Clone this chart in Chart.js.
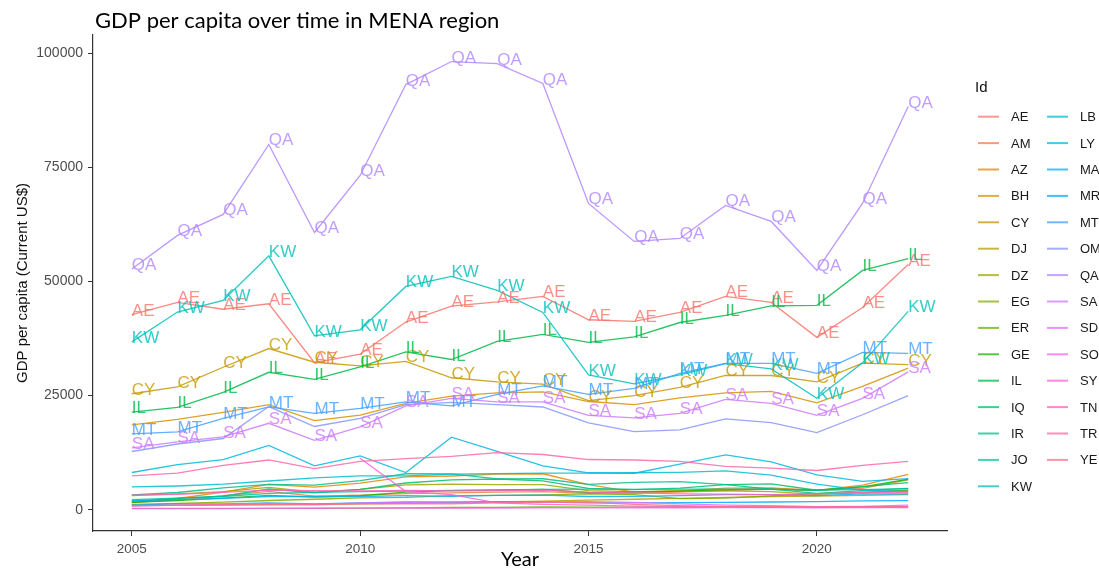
<!DOCTYPE html>
<html>
<head>
<meta charset="utf-8">
<script src="https://cdn.jsdelivr.net/npm/chart.js@4/dist/chart.umd.min.js"></script>
<style>
  html, body { margin: 0; padding: 0; background: #fff; }
  #wrap { width: 1099px; height: 572px; position: relative; }
</style>
</head>
<body>
<div id="wrap"><canvas id="chartGdp" width="1099" height="572"></canvas></div>
<script>
// years on the x axis
const years = [2005, 2006, 2007, 2008, 2009, 2010, 2011, 2012, 2013, 2014, 2015, 2016, 2017, 2018, 2019, 2020, 2021, 2022]

// GDP per capita, current US$
const AE = [42700, 45400, 43900, 45100, 32200, 34100, 41100, 44600, 45500, 46700, 41600, 41250, 43200, 46700, 45400, 37750, 44300, 53700]
const AM = [1640, 2130, 3070, 4010, 2990, 3220, 3530, 3680, 3840, 3990, 3610, 3590, 3870, 4220, 4600, 4270, 4670, 6570]
const AZ = [1580, 2470, 3850, 5570, 4950, 5840, 7190, 7390, 7810, 7880, 5500, 3880, 4150, 4740, 4810, 4230, 5390, 7760]
const BH = [18600, 19800, 21300, 23000, 19500, 20700, 23300, 24900, 25600, 25800, 23700, 23000, 24500, 25600, 25900, 23400, 27000, 31000]
const CY = [25400, 26900, 31200, 35300, 32300, 31500, 32500, 28900, 28000, 27500, 23900, 25000, 26800, 29400, 29400, 28000, 32100, 31800]
const DJ = [900, 950, 1000, 1100, 1200, 1300, 1400, 1500, 1700, 1900, 2100, 2300, 2500, 2700, 2900, 3000, 3150, 3300]
const DZ = [3100, 3480, 3950, 4920, 3880, 4480, 5460, 5590, 5500, 5490, 4190, 3950, 4130, 4140, 3990, 3350, 3690, 4270]
const EG = [1200, 1400, 1670, 2030, 2300, 2590, 2730, 3100, 3130, 3250, 3500, 3330, 2440, 2540, 3020, 3550, 3880, 4300]
const ER = [250, 260, 270, 290, 320, 340, 420, 490, 540, 600, 590, 560, 600, 620, 610, 630, 640, 650]
const GE = [1640, 2030, 2570, 3170, 2770, 3070, 3850, 4190, 4270, 4440, 3770, 3870, 4100, 4420, 4450, 4260, 5020, 6680]
const IL = [21400, 22400, 25700, 30100, 28550, 31300, 34570, 32900, 36870, 38400, 36650, 37850, 41000, 42560, 44640, 44750, 52400, 55000]
const IQ = [1860, 2480, 3000, 4540, 3700, 4470, 5860, 6550, 6740, 6340, 4690, 4410, 4740, 5520, 5650, 4270, 5050, 5940]
const IR = [3280, 3780, 4800, 5560, 5400, 6370, 7880, 7850, 6770, 6790, 5560, 5980, 6180, 5500, 4500, 3600, 4200, 4700]
const JO = [2200, 2550, 2900, 3600, 3800, 3950, 4100, 4250, 4350, 4450, 4500, 4480, 4500, 4500, 4520, 4300, 4400, 4650]
const KW = [36750, 43300, 45840, 55600, 38070, 39400, 48900, 51100, 48030, 43200, 29540, 27570, 29540, 32000, 30850, 24400, 32170, 43430]
const LB = [5000, 5200, 5600, 6300, 7000, 7400, 7400, 7800, 7900, 8000, 8000, 8100, 8200, 8500, 7600, 5600, 4300, 4000]
const LY = [8160, 9900, 11000, 14070, 9630, 11800, 8160, 15900, 12800, 9600, 8100, 8000, 10000, 12000, 10500, 7650, 6200, 6800]
const MA = [2000, 2200, 2500, 2900, 2900, 2900, 3100, 2950, 3150, 3200, 2900, 2950, 3100, 3300, 3300, 3100, 3500, 3450]
const MR = [1000, 1300, 1300, 1500, 1300, 1500, 1700, 1700, 1800, 1700, 1500, 1500, 1550, 1600, 1700, 1800, 1950, 2000]
const MT = [16630, 17070, 20000, 22540, 21100, 22200, 23630, 22760, 25270, 27130, 25270, 26590, 29870, 32060, 32060, 29870, 34460, 34250]
const OM = [12760, 14400, 15600, 22600, 18230, 20000, 23000, 23500, 23000, 22500, 19000, 17130, 17500, 19900, 19100, 16900, 20800, 25000]
const QA = [52700, 60070, 64660, 79980, 60720, 73200, 93100, 98140, 97700, 93330, 67070, 58750, 59400, 66630, 63130, 52400, 67070, 88290]
const SA = [13570, 14880, 15970, 18930, 15210, 18160, 22760, 24400, 23630, 23630, 20680, 20130, 21100, 24180, 23300, 20680, 24400, 30200]
const SD = [800, 1000, 1200, 1400, 1200, 1500, 1600, 1500, 1600, 1700, 1800, 1600, 1300, 1000, 900, 700, 750, 1000]
const SO = [300, 300, 310, 320, 330, 340, 350, 360, 380, 400, 420, 430, 440, 460, 470, 440, 450, 470]
const SY = [null, null, null, null, null, 11300, 4000, 3300, 1500, 1200, 1000, 800, 750, 700, 700, 600, 650, 700]
const TN = [3200, 3380, 3800, 4300, 4160, 4140, 4260, 4140, 4200, 4300, 3860, 3690, 3480, 3440, 3320, 3500, 3800, 3750]
const TR = [7400, 8000, 9700, 10900, 9000, 10600, 11200, 11700, 12500, 12100, 11000, 10900, 10600, 9500, 9100, 8600, 9700, 10600]
const YE = [900, 1000, 1100, 1200, 1100, 1300, 1300, 1300, 1500, 1600, 1600, 1200, 900, 700, 700, 600, 600, 650]

const ids = ['AE', 'AM', 'AZ', 'BH', 'CY', 'DJ', 'DZ', 'EG', 'ER', 'GE', 'IL', 'IQ', 'IR', 'JO', 'KW',
             'LB', 'LY', 'MA', 'MR', 'MT', 'OM', 'QA', 'SA', 'SD', 'SO', 'SY', 'TN', 'TR', 'YE']
const series = [AE, AM, AZ, BH, CY, DJ, DZ, EG, ER, GE, IL, IQ, IR, JO, KW,
                LB, LY, MA, MR, MT, OM, QA, SA, SD, SO, SY, TN, TR, YE]
// the ones that get a text label on every point
const labelled = ['AE', 'CY', 'IL', 'KW', 'MT', 'QA', 'SA']

const yTicks = [0, 25000, 50000, 75000, 100000]
const xTicks = [2005, 2010, 2015, 2020]

// ggplot style hue palette (hcl, c = 100, l = 65)
function hcl(h, c, l) {
  const hr = h * Math.PI / 180
  const u = c * Math.cos(hr), v = c * Math.sin(hr)
  const Xn = 95.047, Yn = 100, Zn = 108.883
  const den = Xn + 15 * Yn + 3 * Zn
  const un = 4 * Xn / den, vn = 9 * Yn / den
  const Y = l > 8 ? Yn * Math.pow((l + 16) / 116, 3) : Yn * l / 903.3
  const up = u / (13 * l) + un, vp = v / (13 * l) + vn
  const X = 9 * Y * up / (4 * vp)
  const Z = -X / 3 - 5 * Y + 3 * Y / vp
  const x = X / 100, y = Y / 100, z = Z / 100
  const lin = [
    3.240479 * x - 1.537150 * y - 0.498535 * z,
    -0.969256 * x + 1.875992 * y + 0.041556 * z,
    0.055648 * x - 0.204043 * y + 1.057311 * z
  ]
  return lin.map(c => {
    let g = c <= 0.0031308 ? 12.92 * c : 1.055 * Math.pow(c, 1 / 2.4) - 0.055
    g = Math.min(1, Math.max(0, g))
    return Math.round(g * 255)
  })
}
const colors = ids.map((id, i) => hcl(15 + i * 360 / ids.length, 100, 65))
const rgba = (c, a) => `rgba(${c[0]},${c[1]},${c[2]},${a})`

const datasets = ids.map((id, i) => ({
  label: id,
  data: series[i].map((v, j) => ({ x: years[j], y: v })),
  borderColor: rgba(colors[i], 0.85),
  backgroundColor: rgba(colors[i], 0.85),
  borderWidth: 1.3,
  pointRadius: 0,
  tension: 0,
  spanGaps: false,
  order: ids.length - i
}))

// text labels at every point of the big economies
const pointLabels = {
  id: 'pointLabels',
  afterDatasetsDraw(chart) {
    const ctx = chart.ctx
    ctx.save()
    ctx.font = '17px "Liberation Sans", Arial, sans-serif'
    ctx.textAlign = 'left'
    ctx.textBaseline = 'alphabetic'
    chart.data.datasets.forEach((ds, i) => {
      if (!labelled.includes(ds.label)) return
      const meta = chart.getDatasetMeta(i)
      ctx.fillStyle = rgba(colors[i], 0.8)
      meta.data.forEach(pt => ctx.fillText(ds.label, pt.x, pt.y + 1))
    })
    ctx.restore()
  }
}

// two column legend like ggplot
const sideLegend = {
  id: 'sideLegend',
  afterDraw(chart) {
    const ctx = chart.ctx
    ctx.save()
    ctx.fillStyle = '#111'
    ctx.font = '15px "Liberation Sans", Arial, sans-serif'
    ctx.textBaseline = 'middle'
    ctx.fillText('Id', 975, 88)
    ctx.font = '13px "Liberation Sans", Arial, sans-serif'
    ids.forEach((id, i) => {
      const col = i < 15 ? 0 : 1
      const row = i < 15 ? i : i - 15
      const x0 = col ? 1047 : 978
      const y = 116.7 + row * 26.4
      ctx.strokeStyle = rgba(colors[i], 0.75)
      ctx.lineWidth = 2
      ctx.beginPath()
      ctx.moveTo(x0, y)
      ctx.lineTo(x0 + 21, y)
      ctx.stroke()
      ctx.fillStyle = '#1a1a1a'
      ctx.fillText(id, x0 + 33, y + 1)
    })
    ctx.restore()
  }
}

const titlePlugin = {
  id: 'titlePlugin',
  afterDraw(chart) {
    const ctx = chart.ctx
    ctx.save()
    ctx.fillStyle = '#000'
    ctx.textBaseline = 'middle'
    ctx.font = '22px Lato, "Open Sans", sans-serif'
    ctx.fillText('GDP per capita over time in MENA region', 95, 21)
    ctx.restore()
  }
}

new Chart(document.getElementById('chartGdp'), {
  type: 'line',
  data: { datasets: datasets },
  options: {
    responsive: false,
    animation: false,
    events: [],
    layout: { padding: { left: 0, top: 35, right: 152, bottom: 0 } },
    plugins: {
      legend: { display: false },
      tooltip: { enabled: false }
    },
    scales: {
      x: {
        type: 'linear',
        min: 2004.15,
        max: 2022.85,
        afterBuildTicks: s => { s.ticks = xTicks.map(v => ({ value: v })) },
        afterFit: s => { s.height = 41 },
        ticks: {
          callback: v => String(v),
          color: '#4d4d4d',
          font: { family: '"Liberation Sans", Arial, sans-serif', size: 13.5 },
          padding: 5,
          maxRotation: 0
        },
        grid: { drawOnChartArea: false, drawTicks: true, tickLength: 5, tickColor: '#333' },
        border: { display: true, color: '#333', width: 1.2 },
        title: {
          display: true,
          text: 'Year',
          color: '#000',
          font: { family: 'Lato, "Open Sans", sans-serif', size: 20 },
          padding: { top: 0, bottom: 0 }
        }
      },
      y: {
        min: -4650,
        max: 103950,
        afterBuildTicks: s => { s.ticks = yTicks.map(v => ({ value: v })) },
        afterFit: s => { s.width = 93 },
        ticks: {
          callback: v => String(v),
          color: '#4d4d4d',
          font: { family: '"Liberation Sans", Arial, sans-serif', size: 14 },
          padding: 5
        },
        grid: { drawOnChartArea: false, drawTicks: true, tickLength: 5, tickColor: '#333' },
        border: { display: true, color: '#333', width: 1.2 },
        title: {
          display: true,
          text: 'GDP per capita (Current US$)',
          color: '#111',
          font: { family: '"Liberation Sans", Arial, sans-serif', size: 15 },
          padding: { top: 14, bottom: 0 }
        }
      }
    }
  },
  plugins: [pointLabels, sideLegend, titlePlugin]
})
</script>
</body>
</html>
